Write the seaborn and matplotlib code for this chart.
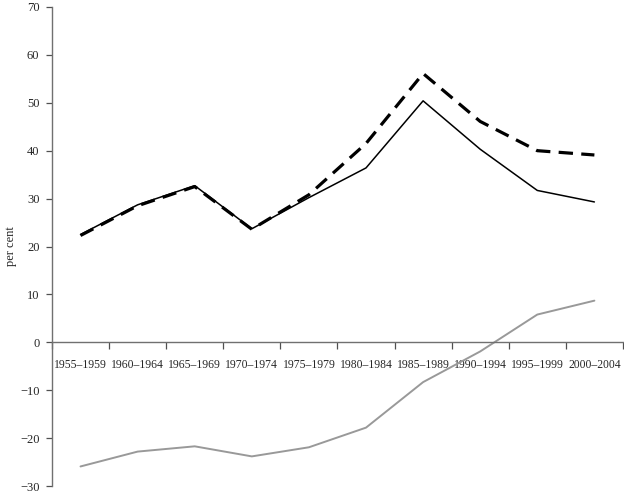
import matplotlib
matplotlib.use("Agg")
import matplotlib.pyplot as plt
import seaborn as sns
import pandas as pd
from matplotlib.ticker import FixedLocator

periods = ["1955–1959", "1960–1964", "1965–1969", "1970–1974", "1975–1979",
           "1980–1984", "1985–1989", "1990–1994", "1995–1999", "2000–2004"]
solid = [22.5, 28.7, 32.7, 23.7, 30.2, 36.4, 50.4, 40.3, 31.7, 29.3]
dashed = [22.3, 28.5, 32.5, 23.6, 30.8, 41.5, 56.1, 46.1, 40.0, 39.1]
grey = [-25.9, -22.8, -21.7, -23.8, -21.9, -17.8, -8.3, -1.9, 5.8, 8.7]

sns.set_style("white")
plt.rcParams['font.family'] = ['Liberation Serif', 'DejaVu Serif']

pos = list(range(len(periods)))
df = pd.DataFrame({'pos': pos, 'solid': solid, 'dashed': dashed, 'grey': grey})

fig = plt.figure(figsize=(6.24, 4.94), dpi=100)
ax = fig.add_axes([0.0833, 0.016, 0.915, 0.970])

sns.lineplot(data=df, x='pos', y='grey', ax=ax, color='#999999', linewidth=1.4)
sns.lineplot(data=df, x='pos', y='dashed', ax=ax, color='black', linewidth=2.3)
ax.lines[-1].set_dashes([4.5, 2.6])
sns.lineplot(data=df, x='pos', y='solid', ax=ax, color='black', linewidth=1.1)

ax.set_xlim(-0.5, len(periods) - 0.5)
ax.set_ylim(-30, 70)
ax.set_yticks(range(-30, 71, 10))
ax.set_yticklabels([str(v).replace('-', '−') for v in range(-30, 71, 10)])
ax.set_xticks(pos)
ax.set_xticklabels(periods)
ax.xaxis.set_minor_locator(FixedLocator([p - 0.5 for p in pos] + [len(pos) - 0.5]))

ax.spines['top'].set_visible(False)
ax.spines['right'].set_visible(False)
ax.spines['bottom'].set_position(('data', 0))
for s in ['left', 'bottom']:
    ax.spines[s].set_color('#707070')
    ax.spines[s].set_linewidth(1.0)

ax.tick_params(axis='x', which='major', length=0, pad=12, labelsize=8.4)
ax.tick_params(axis='x', which='minor', length=5, width=0.9, color='#505050',
               direction='out', bottom=True)
ax.tick_params(axis='y', length=4, width=0.9, color='#505050', direction='out',
               left=True, pad=5, labelsize=9)

ax.set_xlabel('')
ax.set_ylabel('per cent', fontsize=9, labelpad=2)

fig.savefig('out.png', dpi=100)
